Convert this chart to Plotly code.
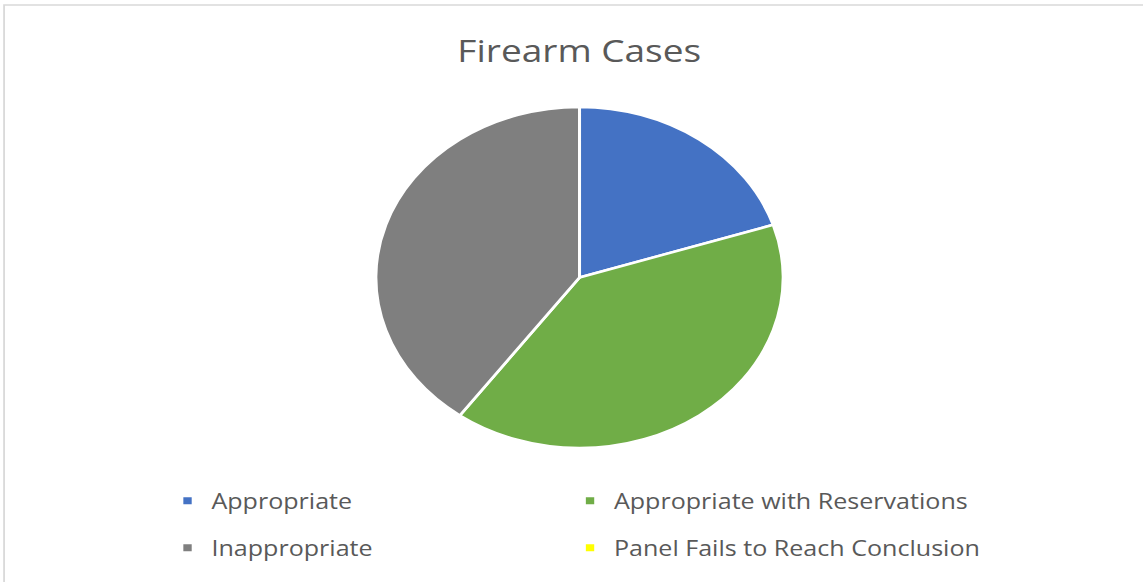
import plotly.graph_objects as go

labels = ["Appropriate", "Appropriate with Reservations", "Inappropriate", "Panel Fails to Reach Conclusion"]
values = [5, 10, 10, 0]
colors = ["#4472C4", "#70AD47", "#7F7F7F", "#FFFF00"]
title_text = "Firearm Cases"

# The reference picture is horizontally stretched; the figure is laid out at
# its native width and stretched by SX in the page.
SX = 1.1944
W, H = 957, 582
cx, cy, r = 485.2, 277.5, 170.5

fig = go.Figure()
fig.add_trace(go.Pie(
    labels=labels, values=values, sort=False, direction="clockwise", rotation=0,
    marker=dict(colors=colors, line=dict(color="white", width=2.5)),
    textinfo="none", hoverinfo="label+value+percent",
    domain=dict(x=[(cx - r) / W, (cx + r) / W], y=[1 - (cy + r) / H, 1 - (cy - r) / H]),
    showlegend=False,
))

# Legend entries laid out in two rows and two columns, one legend per entry
legend_ids = ["legend", "legend2", "legend3", "legend4"]
col_x = [137, 474, 137, 474]
row_y = [501, 501, 548, 548]
for lab, col, lg in zip(labels, colors, legend_ids):
    fig.add_trace(go.Scatter(
        x=[None], y=[None], mode="markers", name=lab,
        marker=dict(symbol="square", size=7, color=col),
        legend=lg, showlegend=True, hoverinfo="skip",
    ))

legends = {}
for lg, lx, ly in zip(legend_ids, col_x, row_y):
    legends[lg] = dict(orientation="h", x=lx / W, xanchor="left", y=1 - ly / H, yanchor="middle",
                       itemwidth=30, font=dict(size=21, color="#595959"),
                       bgcolor="rgba(0,0,0,0)")

fig.update_layout(
    width=W, height=H,
    margin=dict(l=0, r=0, t=0, b=0),
    paper_bgcolor="white", plot_bgcolor="white",
    font=dict(family="Open Sans, sans-serif", color="#595959"),
    title=dict(text=title_text, x=485 / W, xanchor="center", y=1 - 51 / H, yanchor="middle",
               font=dict(size=31, color="#595959")),
    xaxis=dict(visible=False), yaxis=dict(visible=False),
    shapes=[dict(type="rect", xref="paper", yref="paper", x0=3.4 / W, x1=1.02, y0=-0.02, y1=1 - 5 / H,
                 line=dict(color="#D9D9D9", width=1.5), fillcolor="rgba(0,0,0,0)", layer="below")],
    **legends,
)

post = (
    "document.body.style.margin='0';"
    "var gd=document.getElementById('{plot_id}');"
    "gd.style.transformOrigin='0 0';"
    "gd.style.transform='scaleX(" + str(SX) + ")';"
)
fig.write_html("out.html", post_script=post, config={"displayModeBar": False})
